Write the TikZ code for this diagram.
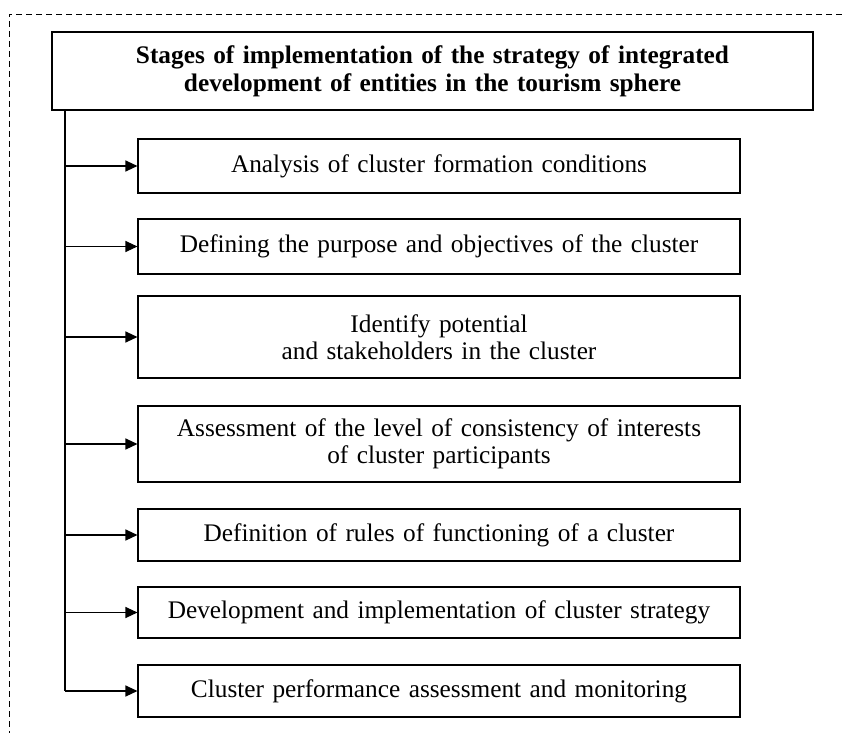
\documentclass[tikz,border=0pt]{standalone}
\usepackage{fontspec}
\setmainfont{Liberation Serif}
\usetikzlibrary{arrows.meta}
\begin{document}
\begin{tikzpicture}[x=1pt,y=-1pt,
  stagebox/.style={draw, line width=1.1pt, minimum width=602pt, text width=596pt,
    align=center, inner sep=0pt, font=\fontsize{25.3}{27}\selectfont},
  headbox/.style={draw, line width=1.1pt, minimum width=761pt, minimum height=78pt,
    text width=755pt, align=center, inner sep=0pt, font=\fontsize{25.3}{28}\selectfont\bfseries},
  link/.style={line width=1.2pt, -{Triangle[length=12pt,width=11pt]}},
  trunk/.style={line width=1.1pt},
  frame/.style={line width=0.8pt, dash pattern=on 6pt off 4pt}]
  \useasboundingbox (0,0) rectangle (842,733);

  % dashed outer frame (top and left sides)
  \coordinate (frametop) at (842,14);
  \coordinate (framecorner) at (9,14);
  \coordinate (framebottom) at (9,733);
  \draw[frame] (frametop) -- (framecorner) -- (framebottom);

  % heading
  \node[headbox] (title) at (432.5,71) {Stages of implementation of the strategy of integrated\\development of entities in the tourism sphere};

  % stages
  \node[stagebox, minimum height=54pt] (b1) at (439,166) {Analysis of cluster formation conditions};
  \node[stagebox, minimum height=55pt] (b2) at (439,246.5) {Defining the purpose and objectives of the cluster};
  \node[stagebox, minimum height=82pt] (b3) at (439,337) {Identify potential\\and stakeholders in the cluster};
  \node[stagebox, minimum height=76pt] (b4) at (439,444) {Assessment of the level of consistency of interests\\of cluster participants};
  \node[stagebox, minimum height=52pt] (b5) at (439,535) {Definition of rules of functioning of a cluster};
  \node[stagebox, minimum height=51pt] (b6) at (439,612.5) {Development and implementation of cluster strategy};
  \node[stagebox, minimum height=52pt] (b7) at (439,691) {Cluster performance assessment and monitoring};

  % vertical trunk and branches
  \coordinate (trunkend) at (65,691);
  \draw[trunk] (title.south -| trunkend) -- (trunkend);
  \draw[link] (trunkend) -- (b7.west);
  \foreach \b in {b1,b2,b3,b4,b5,b6}
    \draw[link] (\b.west -| trunkend) -- (\b.west);
\end{tikzpicture}
\end{document}
